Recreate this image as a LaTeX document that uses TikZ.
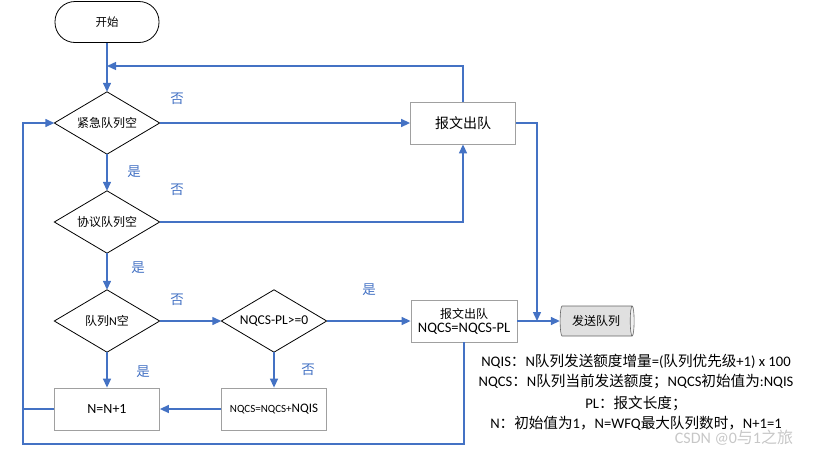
\documentclass[tikz,border=0pt]{standalone}
\usepackage{fontspec}
\setmainfont{Carlito}
\newfontfamily\cjk{Noto Sans CJK SC}
\usetikzlibrary{arrows.meta,shapes.geometric}
\definecolor{lblue}{HTML}{4472C4}
\definecolor{bgray}{HTML}{A0A0A0}
\tikzset{
  conn/.style={draw=lblue,line width=1.4pt},
  arr/.style={conn,-{Triangle[length=9pt,width=8pt]}},
  dia/.style={minimum width=105pt,minimum height=62pt,inner sep=0pt,font=\fontsize{12}{14}\selectfont},
  pbox/.style={draw=bgray,line width=0.8pt,minimum width=105pt,minimum height=42pt,inner sep=1pt,fill=white,font=\fontsize{12}{14}\selectfont,align=center},
  yn/.style={text=lblue,font=\cjk\fontsize{13.5}{15}\selectfont},
  note/.style={font=\fontsize{14.6}{16}\selectfont,anchor=center}
}
\begin{document}
\begin{tikzpicture}[x=1pt,y=-1pt]
\useasboundingbox (0,0) rectangle (816,450);
% nodes
\node[draw=black,line width=0.8pt,rounded corners=20pt,minimum width=104pt,minimum height=41pt,font=\cjk\fontsize{11.5}{14}\selectfont] (start) at (107,22) {开始};
\node[dia,font=\cjk\fontsize{12}{14}\selectfont] (d1) at (107,123) {紧急队列空};
\node[dia,font=\cjk\fontsize{12}{14}\selectfont] (d2) at (107,222) {协议队列空};
\node[dia] (d3) at (107,321) {{\cjk 队列}N{\cjk 空}};
\node[dia,font=\fontsize{13.5}{15}\selectfont] (d4) at (274,321) {NQCS-PL>=0};
\foreach \d in {d1,d2,d3,d4}{
  \draw[black,line width=0.8pt] (\d.north) -- (\d.east) -- (\d.south) -- (\d.west) -- cycle;
}
\node[pbox,font=\fontsize{14}{15}\selectfont] (n1) at (107,409) {N=N+1};
\node[pbox] (nq) at (274,409) {{\fontsize{11}{13}\selectfont NQCS=NQCS+}{\fontsize{13}{15}\selectfont NQIS}};
\node[pbox,font=\cjk\fontsize{14}{16}\selectfont] (q1) at (463,123) {报文出队};
\node[pbox,font=\fontsize{14.5}{15}\selectfont,align=center,minimum width=106pt] (q2) at (464,321) {{\cjk\fontsize{12}{14}\selectfont 报文出队}\\[-1pt]NQCS=NQCS-PL};
\node[cylinder,shape border rotate=0,aspect=0.35,draw=gray!80!black,line width=0.6pt,minimum width=30pt,minimum height=74pt,cylinder uses custom fill,cylinder body fill=black!12,cylinder end fill=black!6,inner sep=0pt,font=\cjk\fontsize{12}{14}\selectfont] (cyl) at (596,321) {发送队列};
% coordinates
\coordinate (r1) at (107,66);
\coordinate (lb) at (23,444);
\coordinate (mj) at (537,321);
% connectors
\draw[arr] (start) -- (d1);
\draw[arr] (q1.north) |- (r1);
\draw[arr] (d1) -- (d2);
\draw[arr] (d2) -- (d3);
\draw[arr] (d3) -- (n1);
\draw[arr] (d1.east) -- (q1.west);
\draw[arr] (d2.east) -| (q1.south);
\draw[arr] (d3.east) -- (d4.west);
\draw[arr] (d4.east) -- (q2.west);
\draw[arr] (d4.south) -- (nq.north);
\draw[arr] (nq.west) -- (n1.east);
\draw[arr] (q2.south) |- (lb) |- (d1.west);
\draw[conn] (n1.west) -- (n1.west -| lb);
\draw[arr] (q1.east) -| (mj);
\draw[arr] (q2.east) -- (cyl.west);
% labels
\node[yn] at (177,99) {否};
\node[yn] at (134,172) {是};
\node[yn] at (177,190) {否};
\node[yn] at (138,268) {是};
\node[yn] at (177,300) {否};
\node[yn] at (143,372) {是};
\node[yn] at (369,290) {是};
\node[yn] at (308,370) {否};
% notes
\node[note] (t1) at (636,361) {NQIS{\cjk ：}N{\cjk 队列发送额度增量}=({\cjk 队列优先级}+1) x 100};
\node[note] (t2) at (636,382) {NQCS{\cjk ：}N{\cjk 队列当前发送额度；}NQCS{\cjk 初始值为}:NQIS};
\node[note] (t3) at (636,403) {PL{\cjk ：报文长度；}};
\node[note] (t4) at (636,423) {N{\cjk ：初始值为}1{\cjk ，}N=WFQ{\cjk 最大队列数时，}N+1=1};
\node[text=black!22,font=\fontsize{16}{18}\selectfont] (wm) at (734,438) {CSDN @0{\cjk 与}1{\cjk 之旅}};
\end{tikzpicture}
\end{document}
